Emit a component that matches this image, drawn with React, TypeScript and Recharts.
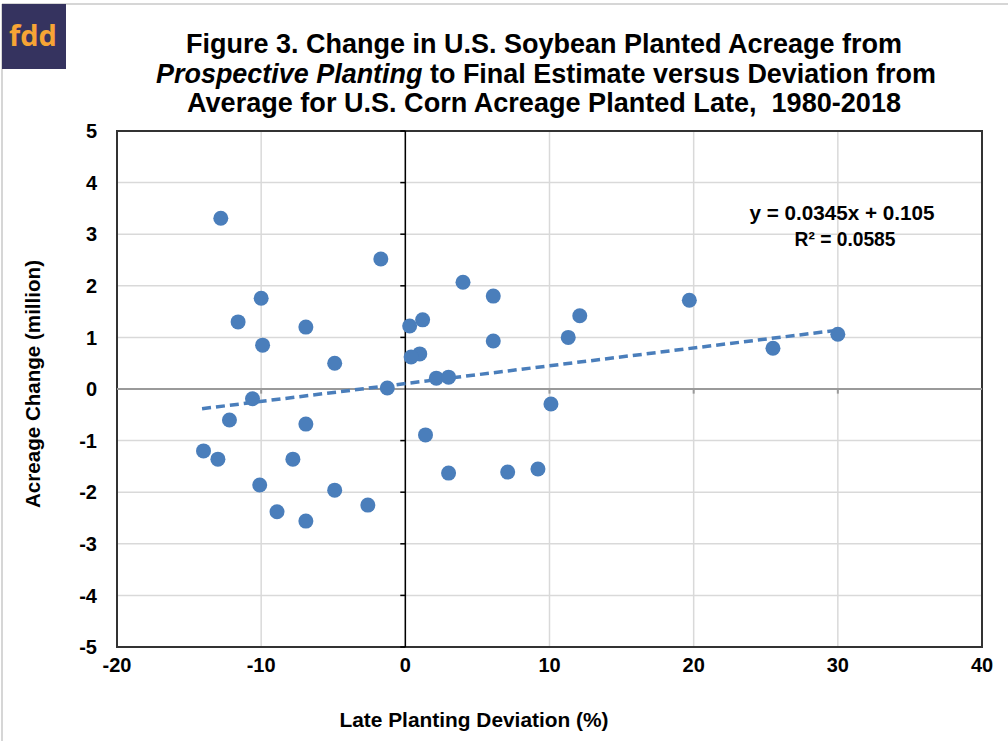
import {
  ScatterChart,
  Scatter,
  XAxis,
  YAxis,
  CartesianGrid,
  ReferenceLine,
  ReferenceArea,
} from "recharts"

// late planting deviation (%) vs change in soybean acreage (million acres)
const deviation = [
  -12.8, -1.7, -10.0, -11.6, -6.9, -9.9, -4.9, -1.25, -10.6, -12.2, -6.9, -14.0, -13.0,
  -7.8, -10.1, -4.9, -8.9, -6.9, -2.6, 4.0, 6.1, 1.2, 0.3, 12.1, 19.7, 6.1, 11.3, 1.0,
  0.4, 2.15, 3.0, 30.0, 25.5, 10.1, 1.4, 3.0, 7.1, 9.2,
]
const acreageChange = [
  3.31, 2.52, 1.76, 1.3, 1.2, 0.85, 0.5, 0.02, -0.19, -0.6, -0.68, -1.2, -1.36, -1.36,
  -1.86, -1.96, -2.38, -2.56, -2.25, 2.07, 1.8, 1.34, 1.22, 1.42, 1.72, 0.93, 1.0, 0.68,
  0.62, 0.21, 0.23, 1.06, 0.79, -0.29, -0.89, -1.63, -1.61, -1.55,
]

const slope = 0.0345
const intercept = 0.105
const trendX = [-14.1, 30.1]

const xTicks = [-20, -10, 0, 10, 20, 30, 40]
const yTicks = [-5, -4, -3, -2, -1, 0, 1, 2, 3, 4, 5]

const points = deviation.map((x, i) => ({ x, y: acreageChange[i] }))
const trend = trendX.map((x) => ({ x, y: slope * x + intercept }))

const BLUE = "#4A7EBB"
const FONT = "'Liberation Sans', Arial, sans-serif"
const tickStyle = { fontSize: 20, fontWeight: 700, fill: "#000", fontFamily: FONT }

export default function App() {
  return (
    <div style={{ position: "absolute", left: 0, top: 0, width: 1008, height: 741, background: "#fff" }}>
      <ScatterChart width={1008} height={741} margin={{ top: 131, right: 26, bottom: 34, left: 57 }}>
        <CartesianGrid stroke="#d9d9d9" strokeWidth={1.5} />
        <XAxis
          type="number"
          dataKey="x"
          domain={[-20, 40]}
          ticks={xTicks}
          height={60}
          axisLine={false}
          tickLine={false}
          tickSize={0}
          tickMargin={11}
          tick={tickStyle}
        />
        <YAxis
          type="number"
          dataKey="y"
          domain={[-5, 5]}
          ticks={yTicks}
          width={60}
          axisLine={false}
          tickLine={false}
          tickSize={0}
          tickMargin={20}
          tick={tickStyle}
        />
        <ReferenceLine y={0} stroke="#9a9a9a" strokeWidth={2} />
        <ReferenceLine x={0} stroke="#000" strokeWidth={1.5} />
        {yTicks
          .filter((v) => v !== 0)
          .map((v) => (
            <ReferenceLine key={"yt" + v} segment={[{ x: -0.35, y: v }, { x: 0, y: v }]} stroke="#000" strokeWidth={1.5} />
          ))}
        {xTicks
          .filter((v) => v !== 0 && v !== -20 && v !== 40)
          .map((v) => (
            <ReferenceLine key={"xt" + v} segment={[{ x: v, y: 0 }, { x: v, y: -0.09 }]} stroke="#9a9a9a" strokeWidth={2} />
          ))}
        <ReferenceArea x1={-20} x2={40} y1={-5} y2={5} fill="none" stroke="#333" strokeWidth={2} ifOverflow="visible" />
        <Scatter
          data={trend}
          line={{ stroke: BLUE, strokeWidth: 3.5, strokeDasharray: "9 5" }}
          shape={() => <g />}
          isAnimationActive={false}
        />
        <Scatter data={points} fill={BLUE} shape={(p: any) => <circle cx={p.cx} cy={p.cy} r={7.5} fill={BLUE} />} isAnimationActive={false} />
      </ScatterChart>

      <svg
        width={1008}
        height={741}
        style={{ position: "absolute", left: 0, top: 0, pointerEvents: "none" }}
        fontFamily={FONT}
        fontWeight={700}
      >
        <line x1={2} y1={4} x2={1008} y2={4} stroke="#c8c8c8" strokeWidth={1.5} />
        <line x1={2} y1={4} x2={2} y2={741} stroke="#c8c8c8" strokeWidth={1.5} />
        <rect x={2} y={4} width={64} height={65} fill="#35335f" />
        <text x={33} y={46} textAnchor="middle" fontSize={29} fill="#f7a435" fontFamily="'Open Sans', sans-serif">
          fdd
        </text>

        <text x={544} y={53} textAnchor="middle" fontSize={28} textLength={716} lengthAdjust="spacingAndGlyphs">
          Figure 3. Change in U.S. Soybean Planted Acreage from
        </text>
        <text x={546} y={83} textAnchor="middle" fontSize={28} textLength={780} lengthAdjust="spacingAndGlyphs">
          <tspan fontStyle="italic">Prospective Planting</tspan> to Final Estimate versus Deviation from
        </text>
        <text x={544} y={112} textAnchor="middle" fontSize={28} textLength={714} lengthAdjust="spacingAndGlyphs">
          {"Average for U.S. Corn Acreage Planted Late,\u00a0 1980-2018"}
        </text>

        <text x={842} y={220} textAnchor="middle" fontSize={20} textLength={185} lengthAdjust="spacingAndGlyphs">
          y = 0.0345x + 0.105
        </text>
        <text x={845} y={246} textAnchor="middle" fontSize={20} textLength={101} lengthAdjust="spacingAndGlyphs">
          R² = 0.0585
        </text>

        <text x={474} y={727} textAnchor="middle" fontSize={21} textLength={269} lengthAdjust="spacingAndGlyphs">
          Late Planting Deviation (%)
        </text>
        <text
          x={0}
          y={0}
          transform="translate(40 384) rotate(-90)"
          textAnchor="middle"
          fontSize={21}
          textLength={248}
          lengthAdjust="spacingAndGlyphs"
        >
          Acreage Change (million)
        </text>
      </svg>
    </div>
  )
}
